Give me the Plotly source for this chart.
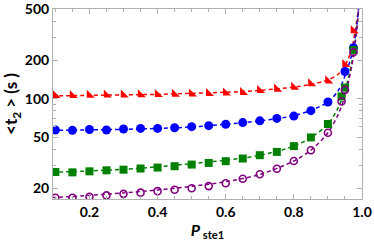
import plotly.graph_objects as go

# marker data
x_red = [0.1, 0.15, 0.2, 0.25, 0.3, 0.35, 0.4, 0.45, 0.5, 0.55, 0.6, 0.65, 0.7, 0.75, 0.8, 0.85, 0.9, 0.95, 0.975]
y_red = [106, 106, 106.5, 107, 107, 107.5, 108, 108.5, 109, 110, 111, 112, 116, 119, 123, 131, 138, 185, 340]

x_blue = [0.1, 0.15, 0.2, 0.25, 0.3, 0.35, 0.4, 0.45, 0.5, 0.55, 0.6, 0.65, 0.7, 0.75, 0.8, 0.85, 0.9, 0.95, 0.975]
y_blue = [56.8, 56.5, 57.3, 56.8, 57.8, 58.5, 58.5, 59.2, 60.3, 61.4, 63, 64.9, 67, 70, 73, 80.5, 94, 163, 250]

x_green = [0.1, 0.15, 0.2, 0.25, 0.3, 0.35, 0.4, 0.45, 0.5, 0.55, 0.6, 0.65, 0.7, 0.75, 0.8, 0.85, 0.9, 0.94, 0.95, 0.975]
y_green = [26.7, 26.5, 27.0, 27.5, 27.8, 28.4, 28.9, 29.6, 30.5, 31.4, 32.4, 34.0, 36.1, 38.3, 42.5, 49.7, 63.3, 104, 122, 240]

x_purple = [0.1, 0.15, 0.2, 0.25, 0.3, 0.35, 0.4, 0.45, 0.5, 0.55, 0.6, 0.65, 0.7, 0.75, 0.8, 0.85, 0.9, 0.94, 0.95, 0.975]
y_purple = [16.8, 16.8, 17.1, 17.5, 18.0, 18.4, 18.9, 19.4, 19.9, 20.7, 21.8, 23.6, 25.6, 28.3, 32.5, 39.5, 54, 95, 117, 230]

# dashed theory curves
x_curve = [0.09, 0.2, 0.3, 0.4, 0.5, 0.6, 0.7, 0.8, 0.85, 0.9, 0.93, 0.95, 0.97, 0.98, 0.99, 0.995]
c_red = [105, 106, 107, 108, 110, 112, 116, 123, 129, 140, 155, 180, 245, 340, 520, 800]
c_blue = [56.5, 57, 57.5, 58.5, 60, 63, 67, 73.5, 81, 94, 115, 150, 220, 300, 500, 800]
c_green = [26.5, 27.2, 28, 29.3, 31, 33, 36, 42.5, 49.5, 63, 85, 115, 190, 280, 500, 900]
c_purple = [16.8, 17.5, 18.3, 19.3, 20.6, 22.4, 25.5, 32.5, 39.5, 54, 75, 105, 180, 270, 500, 900]

x_ticks = [0.2, 0.4, 0.6, 0.8, 1.0]
x_ticklabels = ["0.2", "0.4", "0.6", "0.8", "1.0"]
y_ticks = [20, 50, 100, 200, 500]
y_ticklabels = ["20", "50", "100", "200", "500"]
y_minor = [20, 30, 40, 50, 60, 70, 80, 90, 100, 200, 300, 400, 500]

series = [
    (x_red, y_red, c_red, "#FF0000", "triangle-sw", 9),
    (x_blue, y_blue, c_blue, "#0000FF", "circle", 9),
    (x_green, y_green, c_green, "#008000", "square", 8),
    (x_purple, y_purple, c_purple, "#800080", "circle-open", 7),
]

fig = go.Figure()
for xs, ys, cs, col, sym, sz in series:
    fig.add_trace(go.Scatter(x=x_curve, y=cs, mode="lines",
                             line=dict(color=col, width=1.5, dash="4px,3px", shape="spline", smoothing=0.8),
                             showlegend=False, hoverinfo="skip"))
for xs, ys, cs, col, sym, sz in series:
    mk = dict(color=col, symbol=sym, size=sz)
    if sym == "circle-open":
        mk["line"] = dict(color=col, width=1.6)
    fig.add_trace(go.Scatter(x=xs, y=ys, mode="markers", marker=mk, showlegend=False))

axcol = "#b0b0b0"
fig.update_layout(
    width=374, height=244,
    margin=dict(l=53, r=12, t=9, b=45, autoexpand=False),
    paper_bgcolor="white", plot_bgcolor="white",
    font=dict(family="Lato", size=13, color="black"),
    xaxis=dict(range=[0.093, 1.0], tickvals=x_ticks, ticktext=x_ticklabels, automargin=False,
               ticks="inside", ticklen=5, tickcolor=axcol, showgrid=False, zeroline=False,
               showline=True, linecolor=axcol, linewidth=1, mirror="ticks",
               tickfont=dict(family="Lato", size=14, weight="bold"),
               minor=dict(tickmode="linear", tick0=0, dtick=0.05, ticks="inside", ticklen=3, tickcolor=axcol),
               title=dict(text="<i>P</i><sub> ste1</sub>", font=dict(family="Lato", size=16, weight="bold"), standoff=4)),
    yaxis=dict(type="log", range=[1.215, 2.7005], tickvals=y_ticks, ticktext=y_ticklabels, automargin=False,
               ticks="inside", ticklen=5, tickcolor=axcol, showgrid=False, zeroline=False,
               showline=True, linecolor=axcol, linewidth=1, mirror="ticks",
               tickfont=dict(family="Lato", size=14, weight="bold"),
               minor=dict(tickmode="array", tickvals=y_minor, ticks="inside", ticklen=3, tickcolor=axcol),
               title=dict(text="<t<sub>2</sub> > (s )", font=dict(family="Lato", size=17, weight="bold"), standoff=6)),
)

fig.write_html("out.html", config={"displayModeBar": False},
               post_script="document.body.style.margin='0';document.body.style.overflow='hidden';")
